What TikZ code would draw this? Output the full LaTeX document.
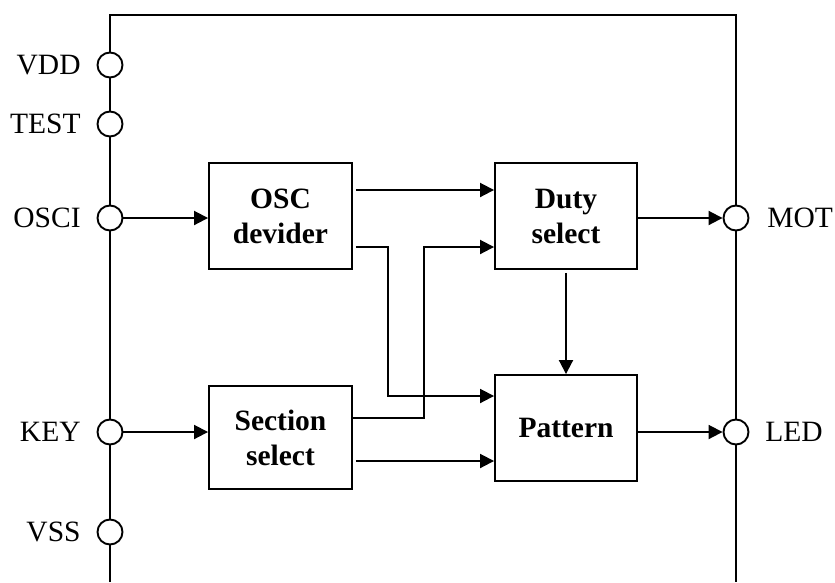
\documentclass[tikz,border=0pt]{standalone}
\usepackage{fontspec}
\setmainfont{Liberation Serif}
\usetikzlibrary{positioning}
\usetikzlibrary{arrows.meta}

\begin{document}
\begin{tikzpicture}[x=1pt, y=-1pt, line width=1.9pt, >={Triangle[length=14pt, width=14pt]},
        every node/.style={font=\fontsize{29.5}{35}\selectfont},
        block/.style={draw, rectangle, minimum width=143pt, minimum height=106pt, inner sep=0pt, align=center, font=\fontsize{29.5}{35}\selectfont\bfseries},
        pad/.style={draw, circle, fill=white, minimum size=25pt, inner sep=0pt},
        padtext/.style={inner sep=0pt}]
        \useasboundingbox (0,0) rectangle (835,582);
        % Chip outline
        \draw (110,582) -- (110,15) -- (736,15) -- (736,582);

        % Left pads
        \node[pad] (vdd) at (110,65) {};
        \node[padtext, left=15pt of vdd] (vdd_text) {VDD};
        \node[pad] (test) at (110,124) {};
        \node[padtext, left=15pt of test] (test_text) {TEST};
        \node[pad] (osci) at (110,218) {};
        \node[padtext, left=15pt of osci] (osci_text) {OSCI};
        \node[pad] (key) at (110,432) {};
        \node[padtext, left=15pt of key] (key_text) {KEY};
        \node[pad] (vss) at (110,532) {};
        \node[padtext, left=15pt of vss] (vss_text) {VSS};

        % Right pads
        \node[pad] (mot) at (736,218) {};
        \node[padtext, right=17pt of mot] (mot_text) {MOT};
        \node[pad] (led) at (736,432) {};
        \node[padtext, right=15pt of led] (led_text) {LED};

        % Blocks
        \node[block] (osc) at (280.5,216) {OSC\\devider};
        \node[block, minimum width=142pt] (duty) at (566,216) {Duty\\select};
        \node[block, minimum height=103pt] (section) at (280.5,437.5) {Section\\select};
        \node[block, minimum width=142pt] (pattern) at (566,428) {Pattern};

        % Inputs
        \draw[->] (osci) -- (osci -| osc.west);
        \draw[->] (key) -- (key -| section.west);

        % OSC devider outputs
        \draw[->, shorten <=3pt] ([yshift=26pt]osc.east) -- ([yshift=26pt]duty.west);
        \draw[->, shorten <=3pt] ([yshift=-31pt]osc.east) -- ++(35,0) |- ([yshift=32pt]pattern.west);

        % Section select outputs
        \draw[->] ([yshift=19.5pt]section.east) -- ++(71,0) |- ([yshift=-31pt]duty.west);
        \draw[->, shorten <=3pt] ([yshift=-23.5pt]section.east) -- ([yshift=-33pt]pattern.west);

        % Duty select to pattern
        \draw[->, shorten <=3pt] (duty) -- (pattern);

        % Outputs
        \draw[->] (duty.east |- mot) -- (mot);
        \draw[->] (pattern.east |- led) -- (led);
    \end{tikzpicture}
\end{document}
